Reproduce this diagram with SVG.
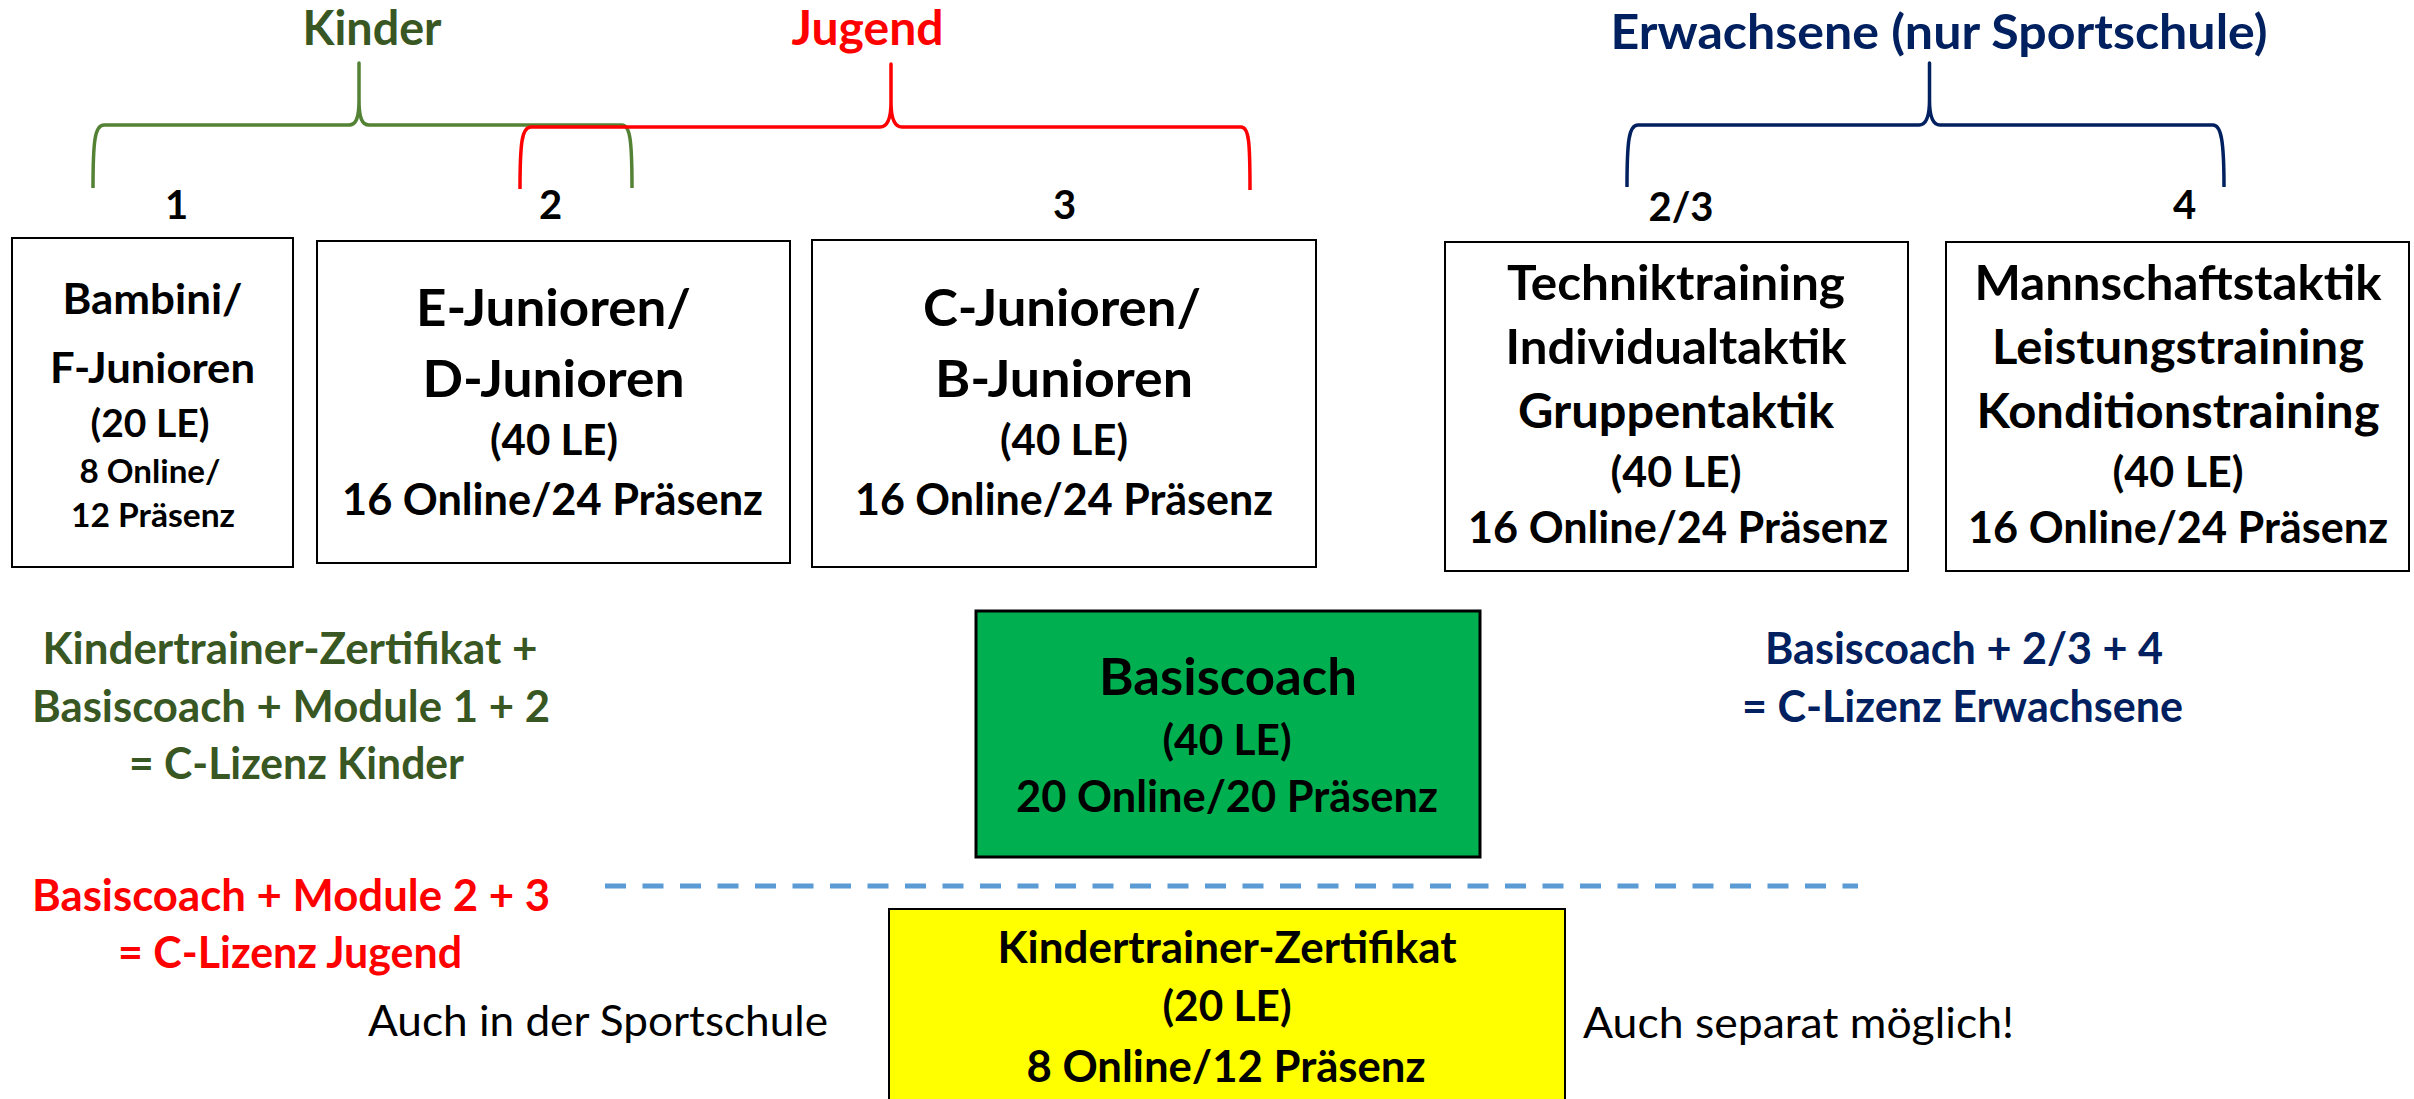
<svg xmlns="http://www.w3.org/2000/svg" width="2414" height="1099" viewBox="0 0 2414 1099">
<style>
text{font-family:Lato,"Open Sans","Liberation Sans",sans-serif;font-weight:700;text-anchor:middle;fill:#000}
.reg{font-weight:400}
.kgreen{fill:#385723}
.red{fill:#FF0000}
.navy{fill:#002060}
.box{fill:#fff;stroke:#000;stroke-width:2}
.brace{fill:none;stroke-width:3.5;stroke-linejoin:round}
.h{font-size:47px}
.num{font-size:40px}
.big{font-size:52px}
.mid{font-size:47px}
.std{font-size:43px}
.le{font-size:42px}
</style>
<rect width="2414" height="1099" fill="#fff"/>

<g id="connectors">
<path class="brace" stroke="#548235" d="M93 188 C93 140 95 125 104 125 L349 125 C356 125 359 118 359 100 L359 63 L359 100 C359 118 362 125 369 125 L622 125 C630 125 632 140 632 188"/>
<path class="brace" stroke="#FF0000" d="M520 189 C520 142 522 127 531 127 L880 127 C887 127 891 120 891 102 L891 64 L891 102 C891 120 895 127 902 127 L1241 127 C1249 127 1250 142 1250 190"/>
<path class="brace" stroke="#002060" stroke-width="3" d="M1627 187 C1627 140 1629 125 1638 125 L1919 125 C1926 125 1929.5 118 1929.5 100 L1929.5 63 L1929.5 100 C1929.5 118 1933 125 1940 125 L2213 125 C2221 125 2224 140 2224 187"/>
<line x1="605" y1="886" x2="1858" y2="886" stroke="#5B9BD5" stroke-width="5" stroke-dasharray="21 16.5"/>
</g>

<g id="label-kinder"><text class="h kgreen" x="372" y="45" textLength="139" lengthAdjust="spacingAndGlyphs">Kinder</text></g>
<g id="label-jugend"><text class="h red" x="867.5" y="45" textLength="152" lengthAdjust="spacingAndGlyphs">Jugend</text></g>
<g id="label-erwachsene"><text class="h navy" x="1939" y="49" textLength="657" lengthAdjust="spacingAndGlyphs">Erwachsene (nur Sportschule)</text></g>

<g id="numbers">
<text class="num" x="176.5" y="219">1</text>
<text class="num" x="550.5" y="219">2</text>
<text class="num" x="1064.5" y="219">3</text>
<text class="num" x="1681" y="221">2/3</text>
<text class="num" x="2184.5" y="219">4</text>
</g>

<g id="module-1">
<rect class="box" x="12" y="238" width="281" height="329"/>
<text x="152.5" y="314" style="font-size:42.5px" textLength="180" lengthAdjust="spacingAndGlyphs">Bambini/</text>
<text x="152.5" y="383" style="font-size:42.5px" textLength="205" lengthAdjust="spacingAndGlyphs">F-Junioren</text>
<text x="150" y="437" style="font-size:39px" textLength="119" lengthAdjust="spacingAndGlyphs">(20 LE)</text>
<text x="150" y="483" style="font-size:33px" textLength="141" lengthAdjust="spacingAndGlyphs">8 Online/</text>
<text x="153" y="527" style="font-size:33px" textLength="164" lengthAdjust="spacingAndGlyphs">12 Präsenz</text>
</g>

<g id="module-2">
<rect class="box" x="317" y="241" width="473" height="322"/>
<text class="big" x="553.5" y="326" textLength="275" lengthAdjust="spacingAndGlyphs">E-Junioren/</text>
<text class="big" x="553.5" y="397" textLength="262" lengthAdjust="spacingAndGlyphs">D-Junioren</text>
<text class="le" x="554" y="455" textLength="128" lengthAdjust="spacingAndGlyphs">(40 LE)</text>
<text class="std" x="552.5" y="515" textLength="421" lengthAdjust="spacingAndGlyphs">16 Online/24 Präsenz</text>
</g>

<g id="module-3">
<rect class="box" x="812" y="240" width="504" height="327"/>
<text class="big" x="1062" y="326" textLength="278" lengthAdjust="spacingAndGlyphs">C-Junioren/</text>
<text class="big" x="1064" y="397" textLength="258" lengthAdjust="spacingAndGlyphs">B-Junioren</text>
<text class="le" x="1064" y="455" textLength="128" lengthAdjust="spacingAndGlyphs">(40 LE)</text>
<text class="std" x="1064" y="515" textLength="418" lengthAdjust="spacingAndGlyphs">16 Online/24 Präsenz</text>
</g>

<g id="module-23">
<rect class="box" x="1445" y="242" width="463" height="329"/>
<text class="mid" x="1676" y="300" textLength="338" lengthAdjust="spacingAndGlyphs">Techniktraining</text>
<text class="mid" x="1676" y="364" textLength="341" lengthAdjust="spacingAndGlyphs">Individualtaktik</text>
<text class="mid" x="1676" y="428" textLength="316" lengthAdjust="spacingAndGlyphs">Gruppentaktik</text>
<text class="le" x="1676" y="487" textLength="131" lengthAdjust="spacingAndGlyphs">(40 LE)</text>
<text class="std" x="1678" y="543" textLength="420" lengthAdjust="spacingAndGlyphs">16 Online/24 Präsenz</text>
</g>

<g id="module-4">
<rect class="box" x="1946" y="242" width="463" height="329"/>
<text class="mid" x="2178" y="300" textLength="407" lengthAdjust="spacingAndGlyphs">Mannschaftstaktik</text>
<text class="mid" x="2178" y="364" textLength="372" lengthAdjust="spacingAndGlyphs">Leistungstraining</text>
<text class="mid" x="2178" y="428" textLength="403" lengthAdjust="spacingAndGlyphs">Konditionstraining</text>
<text class="le" x="2178" y="487" textLength="131" lengthAdjust="spacingAndGlyphs">(40 LE)</text>
<text class="std" x="2178" y="543" textLength="420" lengthAdjust="spacingAndGlyphs">16 Online/24 Präsenz</text>
</g>

<g id="basiscoach">
<rect x="976" y="611" width="504" height="246" fill="#00B050" stroke="#000" stroke-width="3"/>
<text x="1228" y="695" style="font-size:51.5px" textLength="258" lengthAdjust="spacingAndGlyphs">Basiscoach</text>
<text class="le" x="1227" y="755" textLength="129" lengthAdjust="spacingAndGlyphs">(40 LE)</text>
<text class="std" x="1227" y="812" textLength="422" lengthAdjust="spacingAndGlyphs">20 Online/20 Präsenz</text>
</g>

<g id="kindertrainer-zertifikat">
<rect x="889" y="909" width="676" height="230" fill="#FFFF00" stroke="#000" stroke-width="2"/>
<text class="std" x="1227" y="963" textLength="459" lengthAdjust="spacingAndGlyphs">Kindertrainer-Zertifikat</text>
<text class="le" x="1227" y="1021" textLength="129" lengthAdjust="spacingAndGlyphs">(20 LE)</text>
<text class="std" x="1226" y="1082" textLength="399" lengthAdjust="spacingAndGlyphs">8 Online/12 Präsenz</text>
</g>

<g id="lizenz-kinder">
<text class="std kgreen" x="290" y="664" textLength="495" lengthAdjust="spacingAndGlyphs">Kindertrainer-Zertifikat +</text>
<text class="std kgreen" x="291" y="722" textLength="518" lengthAdjust="spacingAndGlyphs">Basiscoach + Module 1 + 2</text>
<text class="std kgreen" x="296.5" y="779" textLength="335" lengthAdjust="spacingAndGlyphs">= C-Lizenz Kinder</text>
</g>

<g id="lizenz-jugend">
<text class="std red" x="291" y="911" textLength="518" lengthAdjust="spacingAndGlyphs">Basiscoach + Module 2 + 3</text>
<text class="std red" x="290" y="968" textLength="344" lengthAdjust="spacingAndGlyphs">= C-Lizenz Jugend</text>
</g>

<g id="lizenz-erwachsene">
<text class="std navy" x="1964" y="664" textLength="398" lengthAdjust="spacingAndGlyphs">Basiscoach + 2/3 + 4</text>
<text class="std navy" x="1962.5" y="722" textLength="441" lengthAdjust="spacingAndGlyphs">= C-Lizenz Erwachsene</text>
</g>

<g id="note-sportschule"><text class="std reg" x="598" y="1036" textLength="460" lengthAdjust="spacingAndGlyphs">Auch in der Sportschule</text></g>
<g id="note-separat"><text class="std reg" x="1798.5" y="1038" textLength="431" lengthAdjust="spacingAndGlyphs">Auch separat möglich!</text></g>
</svg>
